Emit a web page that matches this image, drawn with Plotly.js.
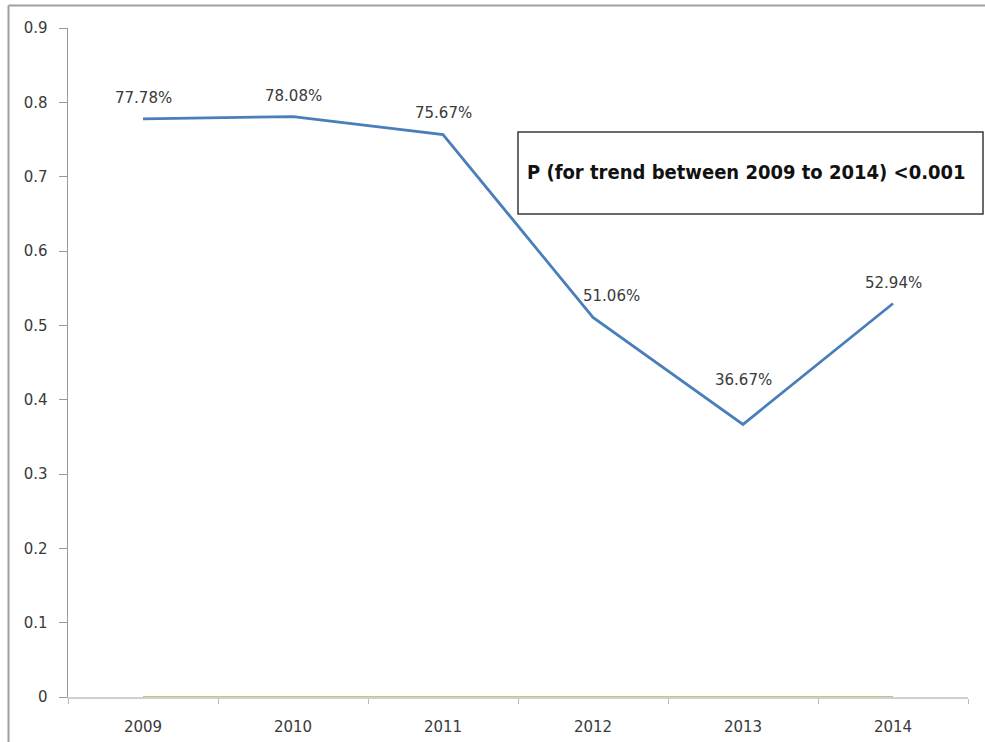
<!DOCTYPE html>
<html>
<head>
<meta charset="utf-8">
<script src="https://cdn.plot.ly/plotly-3.0.1.min.js"></script>
<style>
html,body{margin:0;padding:0;background:#fff;}
#chart{width:985px;height:742px;}
</style>
</head>
<body>
<div id="chart"></div>
<script>
// Data
const years = ['2009', '2010', '2011', '2012', '2013', '2014'];
const rates = [0.7778, 0.7808, 0.7567, 0.5106, 0.3667, 0.5294];
const labels = ['77.78%', '78.08%', '75.67%', '51.06%', '36.67%', '52.94%'];
const baseline = [0, 0, 0, 0, 0, 0];
const yTicks = [0, 0.1, 0.2, 0.3, 0.4, 0.5, 0.6, 0.7, 0.8, 0.9];
const noteText = 'P (for trend between 2009 to 2014) <0.001';

// label offsets (style)
const labelDx = [0, 0, 0, 18, 0, 0];
const labelDy = [21, 21, 22, 21, 44, 20];

const W = 985, H = 742;
const M = {l: 68, r: 17, t: 28, b: 45};
const pw = W - M.l - M.r, ph = H - M.t - M.b;
const px = v => (v - M.l) / pw;
const py = v => (H - M.b - v) / ph;

const FONT = 'DejaVu Sans, Verdana, sans-serif';

const traces = [
  {
    x: years, y: baseline, type: 'scatter', mode: 'lines',
    line: {color: '#a9b94e', width: 1.5}, hoverinfo: 'skip', showlegend: false
  },
  {
    x: years, y: rates, type: 'scatter', mode: 'lines',
    line: {color: '#4a7ebb', width: 2.75}, showlegend: false
  }
];

const annotations = years.map((yr, i) => ({
  x: i, y: rates[i], xref: 'x', yref: 'y',
  text: labels[i], showarrow: false,
  xshift: labelDx[i], yshift: labelDy[i],
  font: {family: FONT, size: 15, color: '#3a3a3a'}
}));

annotations.push({
  x: px(746), y: py(172), xref: 'paper', yref: 'paper',
  xanchor: 'center', yanchor: 'middle', showarrow: false,
  text: '<b>' + noteText + '</b>',
  font: {family: 'Liberation Sans Narrow, Arial Narrow, DejaVu Sans Condensed, DejaVu Sans, sans-serif', size: 20, color: '#111'}
});

const shapes = [
  // outer frame
  {type: 'line', xref: 'paper', yref: 'paper', x0: px(8.5), x1: px(8.5), y0: py(745), y1: py(5.5),
   line: {color: '#a0a0a0', width: 2}},
  {type: 'line', xref: 'paper', yref: 'paper', x0: px(8.5), x1: px(990), y0: py(5.5), y1: py(5.5),
   line: {color: '#a0a0a0', width: 2}},
  // note box
  {type: 'rect', xref: 'paper', yref: 'paper', x0: px(518), x1: px(983), y0: py(214), y1: py(132),
   line: {color: '#3a3a3a', width: 1.5}, fillcolor: 'rgba(255,255,255,1)', layer: 'below'}
];

const layout = {
  width: W, height: H,
  margin: M,
  paper_bgcolor: '#fff', plot_bgcolor: '#fff',
  showlegend: false,
  font: {family: FONT, size: 15, color: '#3a3a3a'},
  xaxis: {
    type: 'category', range: [-0.5, 5.5],
    tickvals: years, ticktext: years,
    tickson: 'boundaries',
    ticks: 'outside', ticklen: 5, tickcolor: '#bbb',
    showline: true, linecolor: '#d0d0d0', linewidth: 2,
    showgrid: false, zeroline: false,
    ticklabelstandoff: 15,
    tickfont: {family: FONT, size: 15, color: '#3a3a3a'},
    fixedrange: true
  },
  yaxis: {
    range: [0, 0.9],
    tickvals: yTicks, ticktext: yTicks.map(v => v === 0 ? '0' : v.toFixed(1)),
    ticks: 'outside', ticklen: 8, tickcolor: '#999',
    showline: true, linecolor: '#999', linewidth: 1.5,
    showgrid: false, zeroline: false,
    ticklabelstandoff: 8,
    tickfont: {family: FONT, size: 15, color: '#3a3a3a'},
    fixedrange: true
  },
  annotations: annotations,
  shapes: shapes
};

Plotly.newPlot('chart', traces, layout, {displayModeBar: false, staticPlot: true});
</script>
</body>
</html>
